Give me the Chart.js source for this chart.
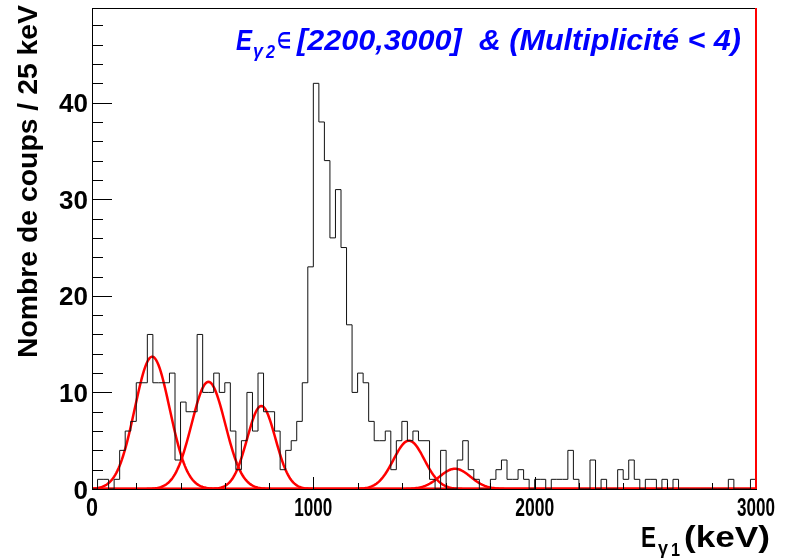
<!DOCTYPE html>
<html>
<head>
<meta charset="utf-8">
<script src="https://cdn.jsdelivr.net/npm/chart.js@4.4.0/dist/chart.umd.min.js"></script>
<style>
  html, body { margin: 0; padding: 0; background: #fff; }
  #wrap { width: 787px; height: 559px; }
</style>
</head>
<body>
<div id="wrap"><canvas id="spectre"></canvas></div>
<script>
// histogramme E_gamma1, 120 canaux de 25 keV entre 0 et 3000 keV
const binWidth = 25;
const xMin = 0, xMax = 3000;
const yMax = 49.8;
const counts = [
  0, 1, 1, 0, 1, 4, 6, 7, 11, 11,
  16, 11, 11, 11, 12, 3, 9, 8, 8, 16,
  10, 10, 12, 10, 11, 6, 2, 5, 10, 6,
  12, 8, 8, 6, 2, 4, 5, 7, 11, 23,
  42, 38, 34, 26, 31, 25, 17, 10, 12, 11,
  7, 5, 5, 6, 2, 5, 7, 5, 6, 5,
  5, 1, 0, 4, 0, 0, 3, 5, 2, 1,
  0, 0, 1, 2, 3, 1, 1, 2, 1, 0,
  1, 1, 0, 1, 1, 1, 4, 1, 0, 0,
  3, 0, 1, 0, 0, 2, 1, 3, 1, 0,
  1, 1, 0, 1, 0, 1, 0, 0, 0, 0,
  0, 0, 0, 0, 0, 1, 0, 0, 0, 1
];

// ajustements gaussiens (centre keV, hauteur, sigma keV)
const fitCentres = [272, 526, 765, 1432, 1640];
const fitHeights = [13.7, 11.1, 8.6, 5.0, 2.1];
const fitSigmas = [79, 76, 64, 70, 70];

const xTickLabels = ['0', '1000', '2000', '3000'];
const xLabelWidths = [12, 38, 39, 38];
const yTickLabels = ['0', '10', '20', '30', '40'];

const fontFam = '"Liberation Sans", Arial, Helvetica, sans-serif';

// histogramme en escalier : un point par bord de canal
let histPoints = counts.map((c, i) => ({ x: xMin + i * binWidth, y: c }));
histPoints.push({ x: xMax, y: counts[counts.length - 1] });

function gaussPoints(k) {
  let pts = [];
  for (let e = xMin; e <= xMax; e += 5) {
    let d = (e - fitCentres[k]) / fitSigmas[k];
    pts.push({ x: e, y: fitHeights[k] * Math.exp(-0.5 * d * d) });
  }
  return pts;
}

let datasets = [{
  data: histPoints,
  stepped: 'before',
  borderColor: '#111',
  borderWidth: 1,
  pointRadius: 0,
  fill: false
}];
for (let k = 0; k < fitCentres.length; k++) {
  datasets.push({
    data: gaussPoints(k),
    borderColor: '#ff0000',
    borderWidth: 2.5,
    pointRadius: 0,
    fill: false
  });
}

// texte ajuste a une largeur donnee (x = bord gauche)
function fitText(ctx, str, x, y, font, width) {
  ctx.save();
  ctx.font = font;
  ctx.textAlign = 'left';
  ctx.textBaseline = 'alphabetic';
  let w = ctx.measureText(str).width;
  ctx.translate(x, y);
  if (width) ctx.scale(width / w, 1);
  ctx.fillText(str, 0, 0);
  ctx.restore();
}

const cadre = {
  id: 'cadre',
  afterDatasetsDraw(chart) {
    const ctx = chart.ctx;
    const a = chart.chartArea;
    const xs = chart.scales.x, ys = chart.scales.y;
    ctx.save();
    ctx.strokeStyle = '#000';
    ctx.lineWidth = 1;
    ctx.strokeRect(a.left + 0.5, a.top + 0.5, a.right - a.left, a.bottom - a.top);

    // graduations x vers l'interieur (200 keV, principales a 1000)
    ctx.beginPath();
    for (let v = xMin; v <= xMax; v += 200) {
      let px = Math.round(xs.getPixelForValue(v)) + 0.5;
      let len = v % 1000 === 0 ? 12 : 6;
      ctx.moveTo(px, a.bottom);
      ctx.lineTo(px, a.bottom - len);
    }
    // graduations y
    for (let v = 0; v < yMax; v += 2) {
      let py = Math.round(ys.getPixelForValue(v)) + 0.5;
      let len = v % 10 === 0 ? 20 : 11;
      ctx.moveTo(a.left, py);
      ctx.lineTo(a.left + len, py);
    }
    ctx.stroke();

    // bord droit rouge
    ctx.strokeStyle = '#ff0000';
    ctx.lineWidth = 2;
    ctx.beginPath();
    let rx = xs.getPixelForValue(xMax);
    ctx.moveTo(rx, a.top);
    ctx.lineTo(rx, a.bottom);
    ctx.stroke();

    ctx.fillStyle = '#000';
    let tickFont = 'bold 26px ' + fontFam;
    xTickLabels.forEach((t, i) => {
      let cx = xs.getPixelForValue(Number(t));
      fitText(ctx, t, cx - xLabelWidths[i] / 2, a.bottom + 27, tickFont, xLabelWidths[i]);
    });
    ctx.font = tickFont;
    ctx.textAlign = 'right';
    ctx.textBaseline = 'alphabetic';
    yTickLabels.forEach(t => {
      ctx.fillText(t, a.left - 4, ys.getPixelForValue(Number(t)) + 9.5);
    });

    // titre axe y
    ctx.save();
    ctx.translate(37, 358);
    ctx.rotate(-Math.PI / 2);
    fitText(ctx, 'Nombre de coups / 25 keV', 0, 0, 'bold 27px ' + fontFam, 353);
    ctx.restore();

    // titre axe x : E_{gamma 1} (keV)
    fitText(ctx, 'E', 641, 547, 'bold 29px ' + fontFam, 15);
    fitText(ctx, '\u03b3', 658, 554, 'bold 18px ' + fontFam, 10);
    fitText(ctx, '1', 671, 556, 'bold 18px ' + fontFam, 9);
    fitText(ctx, '(keV)', 684, 547, 'bold 29px ' + fontFam, 86);

    // legende bleue
    ctx.fillStyle = '#0000ff';
    let itFont = 'italic bold 30px ' + fontFam;
    fitText(ctx, 'E', 236, 50, itFont, 16);
    fitText(ctx, '\u03b3', 253, 57, 'italic bold 18px ' + fontFam, 10);
    fitText(ctx, '2', 266, 58, 'italic bold 18px ' + fontFam, 9);
    fitText(ctx, '\u2208', 277, 48, 'bold 22px ' + fontFam, 14);
    fitText(ctx, '[2200,3000]  & (Multiplicit\u00e9 < 4)', 297, 50, itFont, 444);
    ctx.restore();
  }
};

new Chart(document.getElementById('spectre'), {
  type: 'line',
  data: { datasets: datasets },
  options: {
    responsive: true,
    maintainAspectRatio: false,
    animation: false,
    layout: { padding: { left: 92, right: 31, top: 8, bottom: 70 } },
    plugins: { legend: { display: false }, tooltip: { enabled: false } },
    scales: {
      x: { type: 'linear', min: xMin, max: xMax, display: false },
      y: { type: 'linear', min: 0, max: yMax, display: false }
    }
  },
  plugins: [cadre]
});
</script>
</body>
</html>
